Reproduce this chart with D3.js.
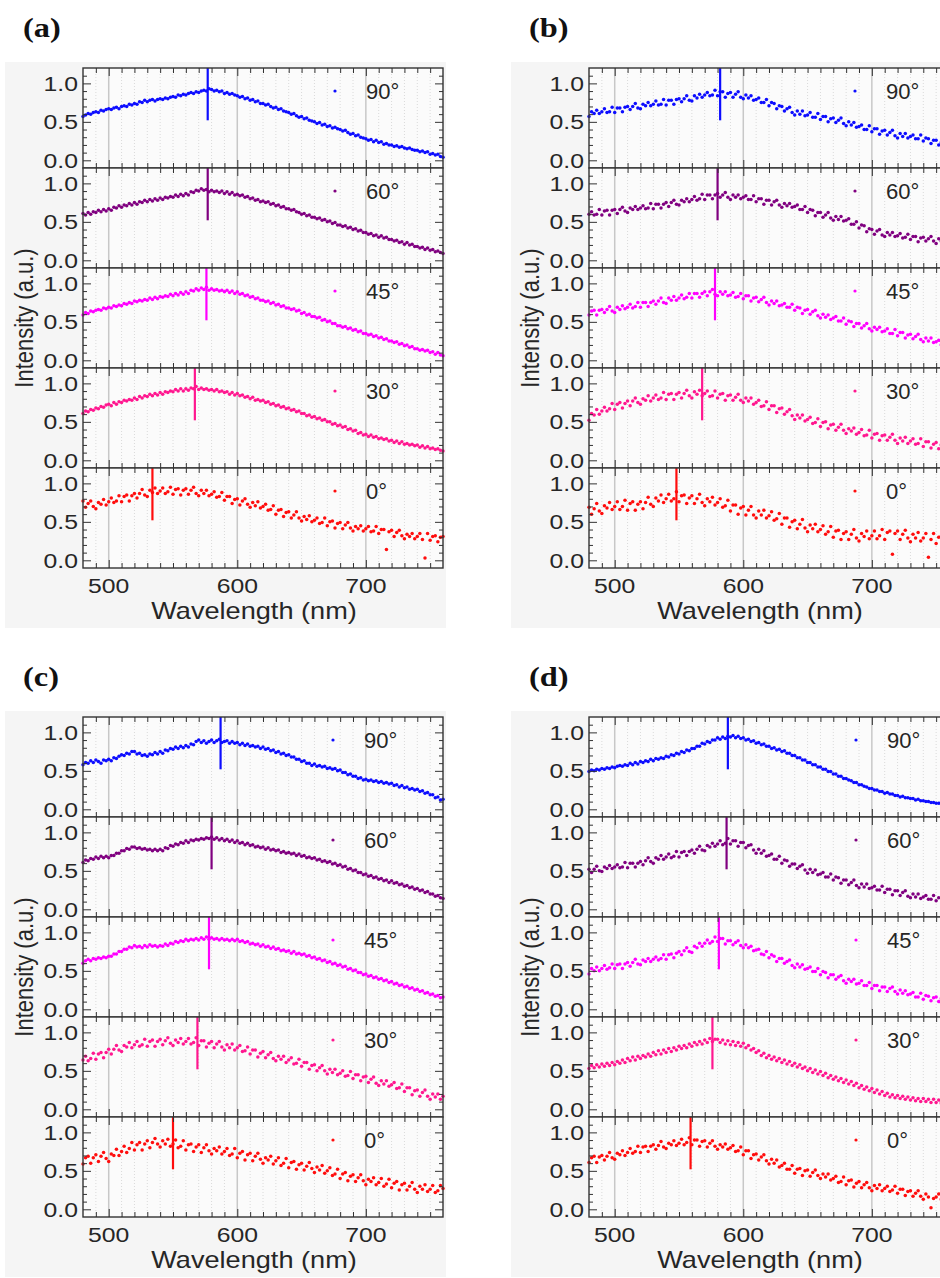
<!DOCTYPE html>
<html>
<head>
<meta charset="utf-8">
<script src="https://cdn.jsdelivr.net/npm/d3@7"></script>
<style>
  body { margin: 0; background: #ffffff; }
  svg { display: block; }
</style>
</head>
<body>
<svg id="chart" width="940" height="1278"></svg>
<script>
// Angle labels and series colours, top subplot first
const angles = ["90°", "60°", "45°", "30°", "0°"];
const colors = ["#0d0dff", "#800080", "#ff00ff", "#ff178f", "#ff0d0d"];

// Sampling grid of the spectra (nm)
const wavelengths = d3.range(480, 761, 2);
const xTickValues = [500, 600, 700];
const xMinorValues = [490, 510, 520, 530, 540, 550, 560, 570, 580, 590, 610, 620, 630, 640, 650, 660, 670, 680, 690, 710, 720, 730, 740, 750];
const yTickValues = [0, 0.5, 1.0];
const yTickLabels = ["0.0", "0.5", "1.0"];
const yMinorValues = [0.1, 0.2, 0.3, 0.4, 0.6, 0.7, 0.8, 0.9, 1.1];

// Normalised intensity, in hundredths, one value per wavelength sample
const a90 = [57,59,61,60,62,63,62,65,64,66, 67,66,68,69,67,70,71,70,73,72, 74,73,76,75,78,76,78,79,77,79, 80,79,81,80,82,83,82,85,84,86, 85,87,88,87,89,88,90,91,90,93, 92,90,91,89,90,87,88,86,87,85, 84,82,83,80,81,78,79,76,77,74, 74,72,73,70,68,69,66,67,64,63, 62,60,61,58,56,57,54,55,52,51, 50,48,49,46,47,44,45,42,43,41, 40,38,39,36,34,35,32,33,30,29, 28,26,27,24,26,23,24,21,22,20, 20,18,19,17,18,16,15,16,14,13, 13,11,12,10,11,8,9,7,8,5, 4];
const a60 = [61,59,62,60,63,62,65,63,66,64, 67,65,69,68,71,69,72,71,74,72, 75,73,76,75,78,76,79,77,80,78, 81,79,82,81,83,82,85,83,86,84, 87,85,89,88,91,90,93,91,92,89, 91,89,90,88,90,87,89,86,88,85, 86,84,85,82,83,80,81,78,79,76, 77,75,76,73,74,71,72,69,70,67, 67,65,66,63,62,60,61,58,59,56, 56,54,55,52,53,50,51,48,49,46, 46,44,45,42,43,40,41,38,39,36, 36,34,35,32,33,30,32,29,30,27, 27,25,26,23,24,21,23,20,21,18, 18,16,17,14,16,13,14,11,12,10, 9];
const a45 = [59,62,61,64,63,65,66,65,68,67, 69,68,71,70,72,71,74,73,75,74, 77,76,78,77,79,78,81,79,82,80, 83,82,84,83,86,84,87,85,88,86, 89,87,91,90,93,91,94,92,95,91, 93,91,92,90,91,89,91,88,90,87, 89,86,87,84,85,82,83,80,81,78, 78,76,77,74,75,72,73,70,71,68, 68,66,67,64,65,61,62,59,60,57, 57,55,56,52,53,50,51,48,48,45, 45,43,44,41,42,39,40,37,38,35, 35,33,34,31,32,29,30,27,28,25, 25,23,24,21,22,19,20,17,18,15, 15,13,14,12,13,10,11,8,10,7, 6];
const a30 = [61,64,63,66,65,68,67,70,69,72, 73,71,75,73,76,75,78,77,79,78, 81,79,83,81,84,83,86,84,87,85, 88,86,89,88,90,89,92,90,93,90, 93,91,94,93,96,92,94,92,93,91, 92,90,92,89,90,88,89,86,88,85, 87,84,85,82,83,80,82,78,79,77, 78,75,76,73,74,71,72,69,70,67, 68,65,66,63,64,61,61,58,59,56, 57,54,55,52,53,50,50,47,48,45, 46,43,44,40,41,38,39,35,36,33, 34,31,33,30,31,28,29,27,28,25, 26,23,25,22,24,21,22,20,21,19, 20,17,19,16,18,15,16,14,15,13, 12];
const a0 = [77,69,74,77,70,67,75,73,79,72, 76,81,75,77,84,76,83,85,77,84, 87,81,87,92,85,83,91,88,94,87, 90,94,87,89,95,86,92,93,85,91, 93,86,91,95,87,84,91,87,91,84, 86,89,82,83,88,78,83,83,74,79, 80,72,77,80,73,69,75,71,76,68, 70,73,65,66,71,60,65,66,57,62, 63,55,59,63,55,51,57,53,58,50, 52,55,48,49,55,45,50,51,42,48, 49,41,46,49,42,38,44,41,45,38, 41,44,37,38,44,35,40,40,14,37, 39,31,36,39,32,28,34,31,35,28, 31,35,27,3,35,26,31,32,24,30, 31];

const b90 = [57,63,61,65,61,63,67,62,63,69, 62,68,68,63,69,70,66,70,74,68, 67,73,71,75,71,73,77,72,73,79, 72,78,78,73,79,80,76,80,84,78, 77,84,81,86,82,85,88,84,85,91, 84,89,89,82,87,88,82,86,89,82, 80,85,81,84,78,79,81,75,75,79, 71,75,74,67,71,70,64,67,69,62, 59,64,60,64,58,59,62,56,56,61, 53,57,57,50,54,55,49,52,55,48, 45,50,46,49,43,44,46,40,40,45, 37,41,41,34,38,39,33,36,39,32, 29,35,31,35,29,31,33,28,28,33, 25,29,28,22,26,26,20,23,25,19, 18];
const b60 = [60,63,59,60,66,59,64,65,59,65, 66,61,66,69,64,62,68,66,70,66, 68,71,67,68,74,67,73,73,68,73, 75,70,75,78,73,72,78,76,80,76, 79,83,78,80,86,79,85,85,80,85, 87,82,85,88,82,79,85,82,85,80, 82,84,79,79,84,76,80,80,73,78, 78,72,76,78,72,69,74,71,74,69, 70,72,66,66,70,62,66,65,58,62, 62,56,59,62,55,52,57,53,57,51, 52,54,47,47,50,42,46,45,37,41, 40,34,38,40,33,31,36,33,36,31, 32,35,29,30,34,27,31,31,24,29, 30,25,28,31,25,22,28,25,28,23, 24];
const b45 = [59,64,65,59,65,66,62,66,70,64, 62,69,66,71,67,69,73,68,70,75, 69,75,75,70,75,77,73,77,81,75, 74,81,78,83,78,81,85,80,82,87, 81,87,87,82,87,89,84,89,92,86, 84,89,86,89,84,85,88,82,83,87, 80,84,84,77,81,82,76,79,82,75, 72,77,74,77,71,72,74,69,69,73, 65,69,68,61,65,66,60,63,65,58, 55,60,56,59,53,55,57,51,51,55, 47,51,50,44,48,48,42,45,48,41, 38,43,40,43,37,38,41,35,35,40, 32,36,36,29,33,34,28,31,34,27, 24,29,25,29,23,24,26,20,20,25, 21];
const b30 = [52,61,59,66,60,64,69,64,67,74, 66,73,75,68,74,77,71,77,81,75, 73,80,78,84,77,81,85,79,81,88, 79,86,87,79,86,88,81,87,91,84, 81,89,86,91,84,87,90,83,84,90, 81,86,87,78,84,85,78,82,86,78, 75,81,77,81,73,75,78,70,71,76, 66,71,71,62,67,68,60,63,66,58, 53,59,55,59,51,53,56,48,49,54, 44,49,50,41,46,47,39,43,47,39, 35,41,38,42,34,36,40,32,33,39, 29,34,35,26,32,33,26,30,34,26, 22,29,25,30,22,25,28,21,22,28, 18,24,24,16,21,23,15,20,23,16, 19];
const b0 = [69,60,67,74,64,61,71,68,75,66, 70,76,66,70,78,65,74,76,65,73, 76,67,75,82,73,70,81,77,85,75, 80,86,77,80,89,76,84,85,74,81, 84,74,80,86,75,71,80,76,82,72, 75,80,69,71,78,64,72,72,60,68, 70,59,65,70,59,55,64,59,65,55, 58,63,52,54,61,47,55,55,43,50, 52,41,47,53,42,37,46,41,47,37, 40,45,34,37,44,30,38,39,27,35, 37,27,34,40,29,25,35,31,38,28, 32,38,28,32,40,27,36,38,8,35, 38,27,34,39,29,24,34,29,36,25, 29,35,4,27,35,22,30,31,20,28, 28];

const c90 = [58,61,60,63,61,64,62,60,64,63, 65,63,67,66,69,71,70,73,72,75, 75,72,73,70,71,69,72,71,74,72, 75,73,77,76,79,78,81,79,82,80, 83,81,85,84,88,90,87,89,86,88, 90,87,89,91,87,88,89,86,88,86, 87,84,86,83,85,82,83,81,82,79, 81,78,79,76,77,74,75,72,73,70, 71,68,68,65,65,62,63,60,60,57, 59,56,57,55,56,53,54,52,53,50, 51,48,48,45,46,43,43,40,41,38, 39,37,38,36,37,35,36,34,35,33, 34,31,32,29,31,28,29,26,27,25, 26,23,24,21,22,19,19,15,16,12, 13];
const c60 = [61,64,63,66,65,68,66,69,67,69, 67,70,70,73,73,76,76,79,78,81, 81,79,80,78,79,77,78,76,78,76, 78,76,80,79,83,82,85,84,87,86, 89,87,90,89,91,90,92,91,93,92, 94,91,93,90,92,89,91,88,90,87, 89,86,87,84,86,83,84,81,82,80, 81,78,80,77,78,76,77,74,75,73, 74,72,73,70,72,69,70,67,68,66, 67,64,65,62,63,61,62,59,60,57, 58,55,56,52,53,50,51,48,48,45, 46,43,44,41,42,39,40,37,38,35, 37,34,35,32,33,30,31,28,29,26, 27,24,25,22,23,20,20,17,18,15, 14];
const c45 = [60,63,65,63,66,65,67,66,68,67, 69,69,72,72,75,75,78,78,81,80, 83,81,82,80,83,81,84,82,83,81, 83,82,85,83,86,85,88,87,89,88, 91,89,91,90,92,90,93,91,94,91, 93,91,92,90,92,90,91,89,91,89, 91,88,89,87,88,85,86,84,85,82, 84,81,82,79,81,78,79,76,77,75, 76,73,75,72,73,71,72,69,70,67, 68,65,66,63,64,61,62,59,60,57, 58,55,56,52,53,50,51,48,48,45, 46,43,44,41,42,39,40,37,38,35, 36,33,34,31,32,29,30,27,28,25, 26,23,24,21,22,19,20,17,18,15, 16];
const c30 = [64,69,63,66,73,65,72,74,67,74, 78,72,78,83,77,75,83,81,87,80, 84,88,82,84,91,82,88,90,82,88, 91,84,89,93,86,83,90,87,92,85, 88,92,85,87,93,83,89,89,81,86, 88,80,85,88,81,77,84,80,85,77, 80,83,75,76,81,72,77,77,68,73, 75,67,71,74,66,63,69,65,69,61, 64,67,59,60,65,56,61,61,52,57, 58,50,54,57,50,46,52,48,52,45, 47,50,43,44,49,40,45,45,37,42, 43,35,39,42,34,31,37,33,37,30, 32,35,27,28,33,23,28,28,19,24, 25,17,22,25,17,13,20,16,20,13, 17];
const c0 = [59,67,69,60,67,71,62,69,74,66, 62,72,70,78,70,75,82,74,79,87, 77,84,87,77,85,89,80,87,92,85, 81,89,85,91,82,85,90,80,82,89, 77,84,85,75,81,84,74,80,84,76, 72,79,76,81,72,75,79,70,72,79, 67,73,75,64,71,73,63,69,73,65, 60,67,64,69,59,63,67,57,60,66, 54,61,62,52,58,60,51,56,61,53, 48,55,51,57,47,50,54,44,46,52, 40,46,48,37,43,45,36,41,45,37, 32,39,36,41,32,35,40,30,33,39, 28,34,36,25,32,34,25,30,35,26, 22,30,26,32,23,26,31,22,24,31, 27];

const d90 = [49,51,50,52,51,53,52,54,53,55, 54,56,57,56,58,57,60,58,61,59, 62,61,63,62,65,63,66,65,67,66, 69,68,71,70,73,72,75,74,77,76, 79,79,82,82,86,85,88,87,90,90, 93,91,94,92,95,94,96,93,95,92, 93,90,91,88,89,86,87,84,85,82, 82,79,80,77,78,75,76,73,73,70, 70,67,67,64,64,61,61,58,58,55, 55,52,52,49,49,46,46,43,43,40, 40,38,37,35,35,32,32,30,29,27, 27,25,25,23,23,21,22,20,20,18, 18,16,17,15,15,14,14,12,13,11, 11,10,10,9,9,8,8,7,7,6, 6];
const d60 = [52,48,52,56,50,49,55,53,57,53, 55,58,54,55,61,54,60,60,55,60, 62,58,63,67,62,60,67,65,70,65, 68,72,67,69,75,68,74,75,70,75, 77,73,78,82,77,76,83,81,86,82, 85,89,84,86,92,85,89,89,82,87, 87,80,83,84,77,73,78,73,76,69, 70,72,65,65,69,60,64,63,56,59, 59,53,56,58,51,47,52,48,51,45, 46,48,42,42,46,38,42,41,34,38, 38,32,35,38,31,28,33,29,33,27, 28,30,25,25,30,22,26,26,19,24, 24,18,22,24,17,15,20,16,20,14, 16,18,13,13,18,11,15,15,8,13, 13];
const d45 = [46,53,50,55,50,53,57,52,54,59, 53,58,59,53,59,61,56,61,65,59, 58,64,62,66,62,65,68,64,66,71, 65,71,72,67,73,75,71,76,80,75, 74,82,80,86,82,86,90,86,88,94, 88,92,92,85,89,89,84,87,89,83, 80,84,80,82,76,77,78,72,71,75, 67,71,69,62,66,66,60,62,64,57, 54,59,55,58,52,53,55,49,49,53, 45,49,48,41,45,45,39,42,44,37, 34,39,36,39,33,34,37,31,31,35, 27,31,31,24,29,29,23,27,29,23, 20,25,21,24,19,20,22,16,16,21, 13,18,17,11,15,16,10,14,16,10, 13];
const d30 = [53,57,54,58,55,59,56,60,57,61, 58,62,60,64,61,66,63,68,64,69, 66,70,68,72,69,74,71,76,72,77, 74,79,75,80,77,82,79,83,80,85, 82,87,84,88,85,90,87,92,88,91, 91,87,90,85,89,84,88,83,87,82, 86,80,83,77,79,74,76,70,73,67, 70,65,68,63,66,61,64,59,62,57, 60,55,58,53,55,50,53,48,51,46, 49,44,47,41,44,39,42,37,40,35, 38,33,36,31,34,28,31,26,29,24, 27,22,25,20,23,18,21,16,19,15, 18,14,17,13,16,12,15,11,14,10, 14,10,13,9,13,9,12,8,12,8, 11];
const d0 = [61,67,69,61,68,70,64,69,74,67, 65,73,71,76,70,74,79,73,75,82, 74,81,82,75,82,84,78,83,88,81, 79,86,84,89,83,86,91,84,87,93, 84,90,90,82,88,89,81,86,89,82, 78,84,81,85,78,80,83,75,76,81, 71,76,76,66,71,72,64,68,71,63, 59,65,60,64,55,57,60,52,52,57, 47,52,53,44,50,51,43,48,51,44, 40,46,42,46,38,40,43,35,36,42, 32,37,38,29,34,36,28,32,35,28, 24,31,27,32,24,27,30,23,25,30, 21,26,26,18,23,24,17,21,24,17, 13,20,16,2,14,16,20,13,14,20, 14];

// Peak wavelengths (nm) marked by vertical bars, top subplot first
const peaksA = [577, 577, 576, 567, 534];
const peaksB = [582, 580, 578, 568, 548];
const peaksC = [587, 580, 578, 569, 550];
const peaksD = [588, 587, 581, 576, 559];

// ---- layout ----
const W = 360, H = 100;
const STRETCH = 1.18;
const SANS = "'Liberation Sans', Arial, Helvetica, sans-serif";
const SERIF = "'Liberation Serif', 'Times New Roman', serif";

const panels = [
  { name: "(a)", series: [a90, a60, a45, a30, a0], peaks: peaksA, left: 83,  top: 68,  legendX: 252 },
  { name: "(b)", series: [b90, b60, b45, b30, b0], peaks: peaksB, left: 589, top: 68,  legendX: 266 },
  { name: "(c)", series: [c90, c60, c45, c30, c0], peaks: peaksC, left: 83,  top: 717, legendX: 250 },
  { name: "(d)", series: [d90, d60, d45, d30, d0], peaks: peaksD, left: 589, top: 717, legendX: 267 }
];

const x = d3.scaleLinear().domain([480, 760]).range([0, W]);
const y = d3.scaleLinear().domain([-0.1, 1.2]).range([H, 0]);
const peakFloor = 0.52;

const svg = d3.select("#chart");

function label(g, px, py, str, opt) {
  const sx = opt.sx === undefined ? STRETCH : opt.sx;
  let tf = `translate(${px},${py}) scale(${sx},1)`;
  if (opt.rotate) tf += ` rotate(${opt.rotate})`;
  return g.append("text")
    .attr("transform", tf)
    .attr("text-anchor", opt.anchor || "start")
    .attr("font-family", opt.family || SANS)
    .attr("font-size", opt.size)
    .attr("font-weight", opt.weight || "normal")
    .attr("fill", opt.fill || "#262626")
    .text(str);
}

panels.forEach(p => {
  const g = svg.append("g").attr("transform", `translate(${p.left},${p.top})`);

  // panel backdrop and letter
  g.append("rect").attr("x", -78).attr("y", -6).attr("width", 441).attr("height", 566).attr("fill", "#f5f5f5");
  label(g, -60, -31, p.name, { size: 27, family: SERIF, weight: "bold", fill: "#111", sx: 1.2 });

  p.series.forEach((vals, k) => {
    const s = g.append("g").attr("transform", `translate(0,${k * H})`);
    s.append("rect").attr("width", W).attr("height", H).attr("fill", "#fbfbfb");

    // vertical grid: faint dotted every 10 nm, solid at the labelled ticks
    s.selectAll("line.minor-grid").data(xMinorValues).join("line")
      .attr("class", "minor-grid")
      .attr("x1", d => x(d)).attr("x2", d => x(d)).attr("y1", 0).attr("y2", H)
      .attr("stroke", "#dadada").attr("stroke-width", 1).attr("stroke-dasharray", "1,2");
    s.selectAll("line.major-grid").data(xTickValues).join("line")
      .attr("class", "major-grid")
      .attr("x1", d => x(d)).attr("x2", d => x(d)).attr("y1", 0).attr("y2", H)
      .attr("stroke", "#c8c8c8").attr("stroke-width", 1.5);

    // measured spectrum
    s.selectAll("circle.pt").data(vals).join("circle")
      .attr("class", "pt")
      .attr("cx", (d, i) => x(wavelengths[i]))
      .attr("cy", d => y(d / 100))
      .attr("r", 1.75)
      .attr("fill", colors[k]);

    // peak marker
    s.append("line")
      .attr("x1", x(p.peaks[k])).attr("x2", x(p.peaks[k]))
      .attr("y1", y(1.2)).attr("y2", y(peakFloor))
      .attr("stroke", colors[k]).attr("stroke-width", 2.2);

    // legend entry
    s.append("circle").attr("cx", p.legendX).attr("cy", 23).attr("r", 1.6).attr("fill", colors[k]);
    label(s, p.legendX + 31, 31, angles[k], { size: 22, sx: 1 });

    // inward ticks on all four sides
    const axes = [
      [d3.axisLeft(y).tickValues(yMinorValues).tickSize(-4), 0, 0],
      [d3.axisLeft(y).tickValues(yTickValues).tickSize(-8), 0, 0],
      [d3.axisRight(y).tickValues(yMinorValues).tickSize(-4), W, 0],
      [d3.axisRight(y).tickValues(yTickValues).tickSize(-8), W, 0],
      [d3.axisTop(x).tickValues(xMinorValues).tickSize(-5), 0, 0],
      [d3.axisTop(x).tickValues(xTickValues).tickSize(-8), 0, 0],
      [d3.axisBottom(x).tickValues(xMinorValues).tickSize(-5), 0, H],
      [d3.axisBottom(x).tickValues(xTickValues).tickSize(-8), 0, H]
    ];
    axes.forEach(([ax, tx, ty]) => {
      const a = s.append("g").attr("transform", `translate(${tx},${ty})`)
        .call(ax.tickFormat("").tickSizeOuter(0));
      a.select(".domain").remove();
      a.selectAll("text").remove();
      a.selectAll("line").attr("stroke", "#333").attr("stroke-width", 1);
    });

    s.append("rect").attr("width", W).attr("height", H)
      .attr("fill", "none").attr("stroke", "#333").attr("stroke-width", 1.4);

    yTickValues.forEach((v, j) => label(s, -5, y(v) + 7.5, yTickLabels[j], { size: 21, anchor: "end" }));
  });

  const bottom = p.series.length * H;
  xTickValues.forEach(v => label(g, x(v), bottom + 25, String(v), { size: 21, anchor: "middle" }));
  label(g, 171, bottom + 51, "Wavelength (nm)", { size: 23, anchor: "middle" });
  label(g, -50, bottom / 2, "Intensity (a.u.)", { size: 22, anchor: "middle", rotate: -90 });
});
</script>
</body>
</html>
